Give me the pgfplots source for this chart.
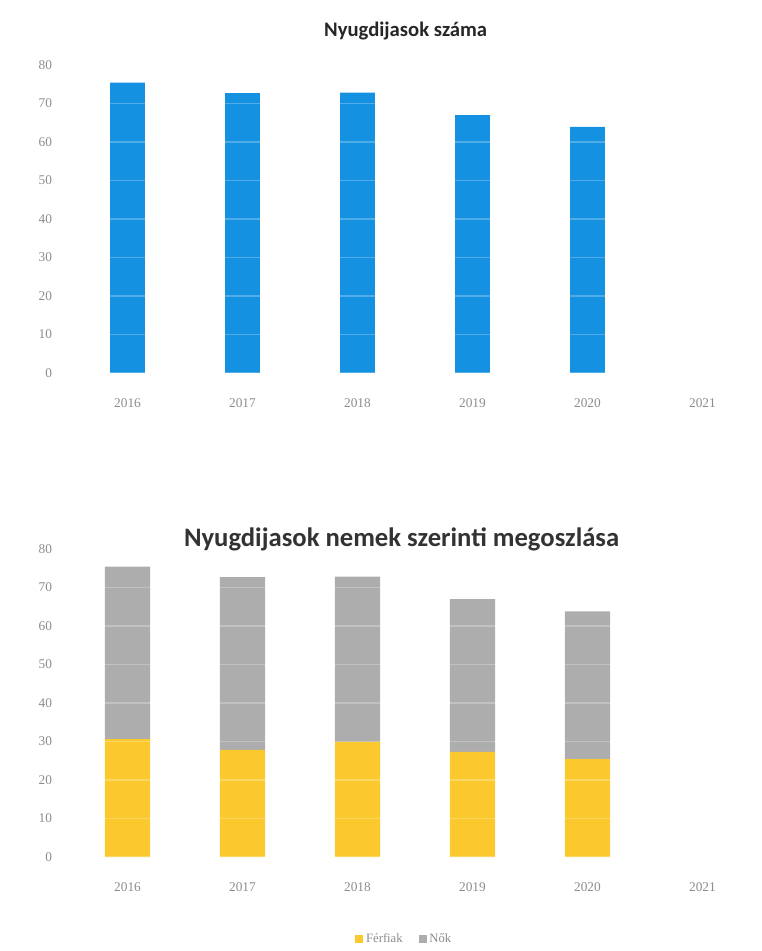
\documentclass[border=0pt]{standalone}
\usepackage{pgfplots}
\pgfplotsset{compat=1.18}
\usepackage{fontspec}
\setmainfont{Carlito}
\newfontfamily\tickfont{Liberation Serif}
\definecolor{barblue}{HTML}{1591E2}
\definecolor{bargray}{HTML}{ADADAD}
\definecolor{baryellow}{HTML}{FBC92E}
\definecolor{tickgray}{HTML}{8C8C8C}
\begin{document}
\begin{tikzpicture}[x=1pt,y=1pt]
\useasboundingbox (0,0) rectangle (571.5,713.25);
\pgfplotsset{
  common/.style={
    scale only axis, width=517.5pt, height=231pt,
    xmin=-0.5, xmax=5.5, ymin=0, ymax=80,
    xtick={0,1,2,3,4,5},
    xticklabels={2016,2017,2018,2019,2020,2021},
    ytick={0,10,...,80},
    axis line style={draw=none},
    tick style={draw=none},
    axis on top,
    ymajorgrids,
    major grid style={white, opacity=0.25, line width=0.8pt},
    ticklabel style={font=\tickfont\fontsize{10}{11}\selectfont, text=tickgray},
    xticklabel style={yshift=-16pt},
    yticklabel style={xshift=-10pt},
    /pgf/number format/assume math mode=true,
  }
}
\begin{axis}[common, at={(52.5pt,433.5pt)}, anchor=south west,
  title={Nyugdijasok száma},
  title style={font=\bfseries\fontsize{15.5}{17}\selectfont, text=black!85, yshift=9pt, xshift=-7pt}]
\addplot[ybar, bar width=26pt, fill=barblue, draw=none] coordinates {
(0,75.4) (1,72.7) (2,72.8) (3,67.0) (4,63.9)};
\end{axis}
\begin{axis}[common, at={(52.5pt,70.5pt)}, anchor=south west,
  ybar stacked, bar width=34pt,
  title={Nyugdijasok nemek szerinti megoszlása},
  title style={font=\bfseries\fontsize{20}{22}\selectfont, text=black!80, yshift=-11pt, xshift=-10pt},
  legend style={at={(0.485,-0.23)}, anchor=north, draw=none, legend columns=2,
    font=\tickfont\fontsize{9.5}{10}\selectfont, text=tickgray,
    /tikz/every even column/.append style={column sep=10pt}},
  legend image code/.code={\fill[#1] (0pt,-3pt) rectangle (6pt,3pt);}]
\addplot[fill=baryellow, draw=none] coordinates {
(0,30.6) (1,27.8) (2,29.9) (3,27.3) (4,25.4)};
\addplot[fill=bargray, draw=none] coordinates {
(0,44.8) (1,44.9) (2,42.9) (3,39.7) (4,38.4)};
\legend{Férfiak, Nők}
\end{axis}
\end{tikzpicture}
\end{document}
